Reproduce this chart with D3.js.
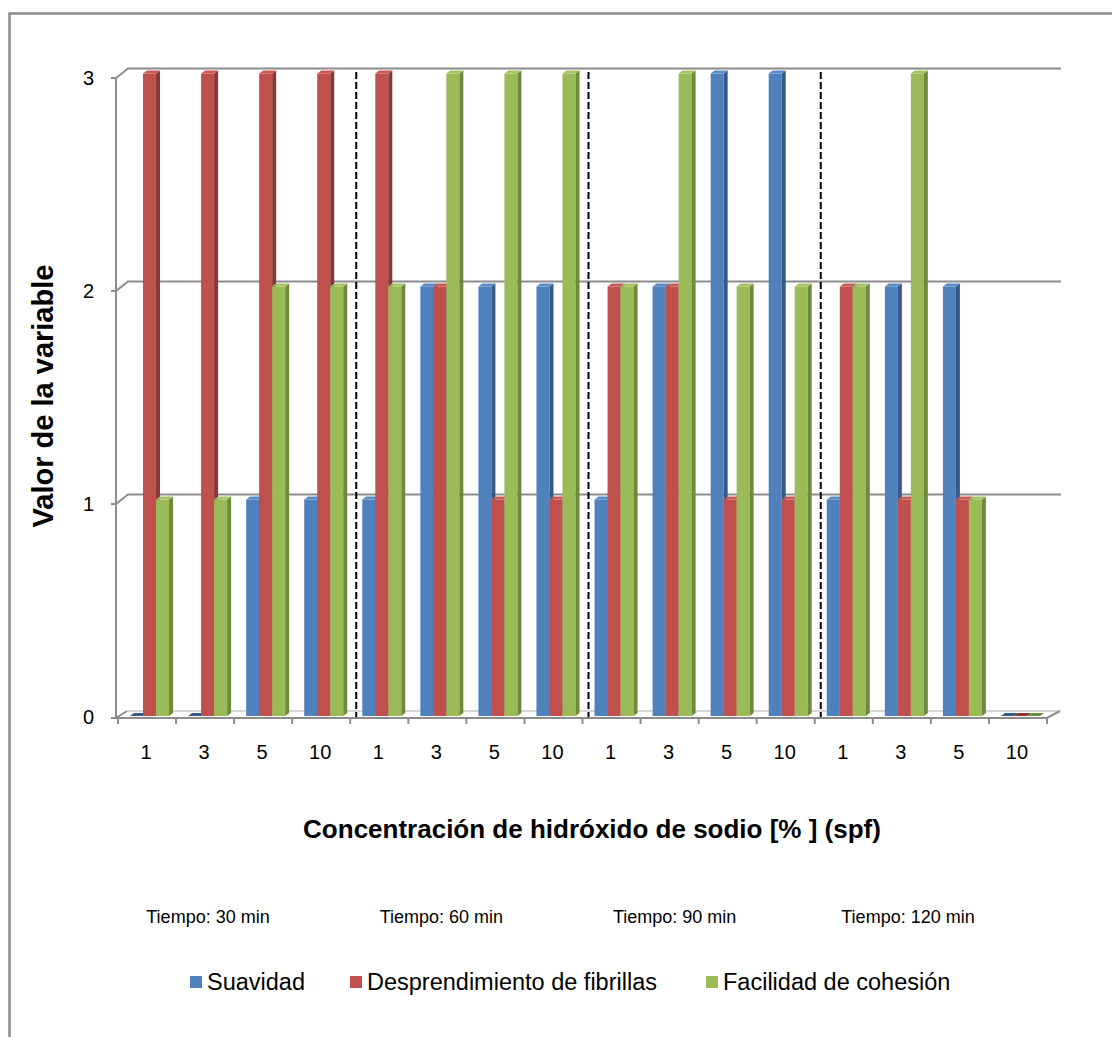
<!DOCTYPE html>
<html>
<head>
<meta charset="utf-8">
<script src="https://cdn.jsdelivr.net/npm/d3@7"></script>
<style>
  html, body { margin: 0; padding: 0; background: #fff; }
  svg { display: block; font-family: "Liberation Sans", Arial, sans-serif; }
</style>
</head>
<body>
<svg id="chart" width="1112" height="1037"></svg>
<script>
// ---- data ----
const categories = ["1","3","5","10","1","3","5","10","1","3","5","10","1","3","5","10"];
const seriesNames = ["Suavidad", "Desprendimiento de fibrillas", "Facilidad de cohesión"];
const suavidad      = [0,0,1,1, 1,2,2,2, 1,2,3,3, 1,2,2,0];
const desprendimiento = [3,3,3,3, 3,2,1,1, 2,2,1,1, 2,1,1,0];
const cohesion      = [1,1,2,2, 2,3,3,3, 2,3,2,2, 2,3,1,0];
const yTicks = [0,1,2,3];
const timeLabels = ["Tiempo: 30 min", "Tiempo: 60 min", "Tiempo: 90 min", "Tiempo: 120 min"];
const groupBoundaries = [4, 8, 12];
const xTitle = "Concentración de hidróxido de sodio [% ] (spf)";
const yTitle = "Valor de la variable";

const seriesValues = [suavidad, desprendimiento, cohesion];
const frontColors = ["#4F81BD", "#C0504D", "#9BBB59"];
const topColors   = ["#5A8BC6", "#C85A57", "#A4C466"];
const sideColors  = ["#375B87", "#883735", "#6E8A3C"];

const svg = d3.select("#chart");

// outer border
svg.append("rect").attr("x", 9.5).attr("y", 13.5).attr("width", 1200).attr("height", 1200)
  .attr("fill", "none").attr("stroke", "#8c8c8c").attr("stroke-width", 2.5);

// scales
const idx = d3.range(categories.length);
const x = d3.scaleBand().domain(idx).range([118, 1047]).paddingInner(0).paddingOuter(0);
const y = d3.scaleLinear().domain([0, 3]).range([717, 78]);
const sub = d3.scaleBand().domain(d3.range(3)).range([-17, 22]);
const bw = sub.bandwidth();
const dX = 12, dY = -9.5;        // wall depth
const sX = 4, sY = -3;           // bar depth
const axisX = 116;

// gridlines (back wall)
const g = svg.append("g");
yTicks.filter(v => v > 0).forEach(v => {
  const yy = y(v);
  g.append("path")
    .attr("d", `M${axisX - 5},${yy}H${axisX}L${axisX + dX},${yy + dY}H${x.range()[1] + 14}`)
    .attr("fill", "none").attr("stroke", "#8c8c8c").attr("stroke-width", 2);
});
// vertical axis
g.append("line").attr("x1", axisX).attr("x2", axisX).attr("y1", y(3)).attr("y2", y(0) + 1)
  .attr("stroke", "#8c8c8c").attr("stroke-width", 2);
// floor
const fy = y(0) + 1, fb = y(0) - 6;
g.append("path").attr("d", `M${axisX + 11},${fb}H${x.range()[1] + 13}`)
  .attr("fill", "none").attr("stroke", "#c8c8c8").attr("stroke-width", 1.5);
g.append("path").attr("d", `M${axisX - 5},${fy}H${x.range()[1]}L${x.range()[1] + 13},${fb}`)
  .attr("fill", "none").attr("stroke", "#8c8c8c").attr("stroke-width", 2);
g.append("path").attr("d", `M${axisX},${fy}L${axisX + 11},${fb}`)
  .attr("fill", "none").attr("stroke", "#8c8c8c").attr("stroke-width", 2);
// x ticks
d3.range(categories.length + 1).forEach(i => {
  const xx = x.range()[0] + i * x.step();
  g.append("line").attr("x1", xx).attr("x2", xx).attr("y1", fy).attr("y2", fy + 6)
    .attr("stroke", "#8c8c8c").attr("stroke-width", 2);
});

// bars
const bars = svg.append("g");
idx.forEach(i => {
  const c = x(i) + x.bandwidth() / 2;
  seriesValues.forEach((vals, s) => {
    const v = vals[i];
    const x0 = c + sub(s);
    const bottom = y(0) - 1;
    if (v <= 0) {
      bars.append("path")
        .attr("d", `M${x0},${bottom}H${x0 + bw}L${x0 + bw + sX},${bottom + sY}H${x0 + sX}Z`)
        .attr("fill", sideColors[s]);
      return;
    }
    const top = y(v) - 4.5;
    bars.append("rect").attr("x", x0).attr("y", top).attr("width", bw).attr("height", bottom - top)
      .attr("fill", frontColors[s]);
    bars.append("path")
      .attr("d", `M${x0 + bw},${top}L${x0 + bw + sX},${top + sY}V${bottom + sY}L${x0 + bw},${bottom}Z`)
      .attr("fill", sideColors[s]);
    bars.append("path")
      .attr("d", `M${x0},${top}L${x0 + sX},${top + sY}H${x0 + bw + sX}L${x0 + bw},${top}Z`)
      .attr("fill", topColors[s]);
  });
});

// dashed separators
groupBoundaries.forEach(b => {
  const xx = x.range()[0] + b * x.step() + 6;
  svg.append("line").attr("x1", xx).attr("x2", xx).attr("y1", 72).attr("y2", y(0))
    .attr("stroke", "#000").attr("stroke-width", 2).attr("stroke-dasharray", "7,3");
});

// y tick labels
yTicks.forEach(v => {
  svg.append("text").attr("x", 94).attr("y", y(v) + 7).attr("text-anchor", "end")
    .attr("font-size", 20).attr("fill", "#000").text(v);
});
// x category labels
idx.forEach(i => {
  svg.append("text").attr("x", x(i) + x.bandwidth() / 2 - 1).attr("y", 759)
    .attr("text-anchor", "middle").attr("font-size", 20).attr("fill", "#000").text(categories[i]);
});

// axis titles
svg.append("text").attr("x", 592).attr("y", 838).attr("text-anchor", "middle")
  .attr("font-size", 26).attr("font-weight", "bold").text(xTitle);
svg.append("text").attr("transform", "translate(53,396) rotate(-90)").attr("text-anchor", "middle")
  .attr("font-size", 29).attr("font-weight", "bold").text(yTitle);

// time labels
const timeX = d3.scalePoint().domain(timeLabels).range([208, 908]);
timeLabels.forEach(t => {
  svg.append("text").attr("x", timeX(t)).attr("y", 923).attr("text-anchor", "middle")
    .attr("font-size", 18).text(t);
});

// legend
const legendX = [190, 350, 706];
seriesNames.forEach((n, s) => {
  svg.append("rect").attr("x", legendX[s]).attr("y", 976).attr("width", 12).attr("height", 12)
    .attr("fill", frontColors[s]);
  svg.append("text").attr("x", legendX[s] + 17).attr("y", 990).attr("font-size", 23.5).text(n);
});
</script>
</body>
</html>
